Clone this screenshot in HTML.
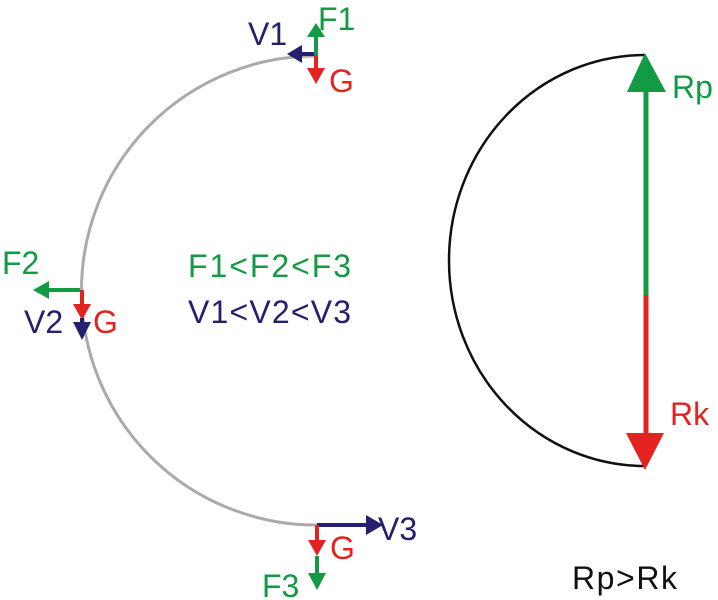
<!DOCTYPE html>
<html><head><meta charset="utf-8"><style>
html,body{margin:0;padding:0;background:#fff;}
svg{display:block;font-family:"Liberation Sans",Arial,sans-serif;}
</style></head><body>
<svg width="718" height="600" viewBox="0 0 718 600" xmlns="http://www.w3.org/2000/svg">
<!-- gray semicircle -->
<path d="M315,56 A234.5,234.5 0 1 0 317,525" fill="none" stroke="#aaaaaa" stroke-width="3"/>
<!-- black arc -->
<path d="M645,55 A196,205.5 0 0 0 645,466" fill="none" stroke="#111" stroke-width="2.5"/>
<!-- Rp / Rk -->
<line x1="646" y1="295" x2="646" y2="88" stroke="#129a45" stroke-width="5"/>
<polygon points="645,53 627,92 666,92" fill="#129a45"/>
<line x1="646" y1="295" x2="646" y2="436" stroke="#e2231f" stroke-width="5"/>
<polygon points="645,470 626,433 664,433" fill="#e2231f"/>
<!-- top point -->
<line x1="316" y1="55" x2="316" y2="34" stroke="#129a45" stroke-width="4"/>
<polygon points="316,23 307,37 325,37" fill="#129a45"/>
<line x1="316" y1="55" x2="316" y2="72" stroke="#e2231f" stroke-width="4"/>
<polygon points="316,84 307,68 325,68" fill="#e2231f"/>
<line x1="314" y1="54" x2="296" y2="54" stroke="#24206e" stroke-width="4"/>
<polygon points="287,54 302,45 302,63" fill="#24206e"/>
<!-- left point -->
<line x1="80" y1="290" x2="46" y2="290" stroke="#129a45" stroke-width="4"/>
<polygon points="33,290 49,281 49,299" fill="#129a45"/>
<line x1="82" y1="290" x2="82" y2="308" stroke="#e2231f" stroke-width="4"/>
<polygon points="82,320 73,304 91,304" fill="#e2231f"/>
<polygon points="82,340 73,322 91,322" fill="#24206e"/>
<line x1="82" y1="318" x2="82" y2="326" stroke="#24206e" stroke-width="4"/>
<!-- bottom point -->
<line x1="317" y1="525" x2="370" y2="525" stroke="#24206e" stroke-width="4"/>
<polygon points="383,525 366,515 366,535" fill="#24206e"/>
<line x1="317" y1="525" x2="317" y2="545" stroke="#e2231f" stroke-width="4"/>
<polygon points="317,556 308,540 326,540" fill="#e2231f"/>
<line x1="317" y1="556" x2="317" y2="578" stroke="#129a45" stroke-width="4"/>
<polygon points="317,590 308,573 326,573" fill="#129a45"/>
<!-- labels -->
<g font-size="32">
<text x="248" y="45" fill="#24206e">V1</text>
<text x="318" y="30" fill="#129a45">F1</text>
<text x="329" y="92" fill="#e2231f">G</text>
<text x="2" y="274" fill="#129a45">F2</text>
<text x="24" y="333" fill="#24206e">V2</text>
<text x="93" y="333" fill="#e2231f">G</text>
<text x="378" y="540" fill="#24206e">V3</text>
<text x="330" y="559" fill="#e2231f">G</text>
<text x="262" y="597" fill="#129a45">F3</text>
<text x="672" y="98" fill="#129a45">Rp</text>
<text x="670" y="425" fill="#e2231f">Rk</text>
<text x="572" y="589" fill="#111" textLength="105">Rp&gt;Rk</text>
<text x="188" y="277" fill="#129a45" textLength="163">F1&lt;F2&lt;F3</text>
<text x="188" y="323" fill="#24206e" textLength="163">V1&lt;V2&lt;V3</text>
</g>
</svg>
</body></html>
